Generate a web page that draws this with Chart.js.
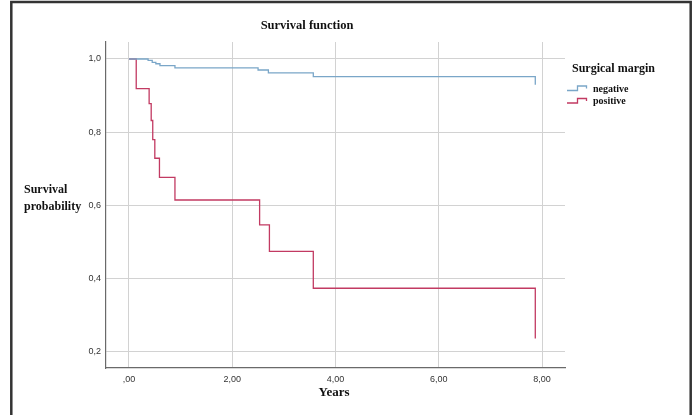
<!DOCTYPE html>
<html>
<head>
<meta charset="utf-8">
<script src="https://cdn.jsdelivr.net/npm/chart.js@4/dist/chart.umd.min.js"></script>
<style>
  html, body { margin: 0; padding: 0; background: #ffffff; }
  #wrap { width: 696px; height: 415px; }
</style>
</head>
<body>
<div id="wrap"><canvas id="c" width="696" height="415"></canvas></div>
<script>
// ---- data ----
const negativeTimes = [0, 0.37, 0.45, 0.52, 0.60, 0.89, 2.50, 2.70, 3.57, 7.87];
const negativeSurvival = [1.0, 0.996, 0.991, 0.987, 0.982, 0.976, 0.970, 0.962, 0.952, 0.930];
const positiveTimes = [0, 0.14, 0.39, 0.43, 0.46, 0.50, 0.59, 0.89, 2.53, 2.72, 3.57, 7.87];
const positiveSurvival = [1.0, 0.919, 0.878, 0.832, 0.780, 0.729, 0.677, 0.615, 0.547, 0.475, 0.374, 0.237];
const seriesNames = ["negative", "positive"];
const xTickValues = [0, 2, 4, 6, 8];
const xTickLabels = [",00", "2,00", "4,00", "6,00", "8,00"];
const yTickValues = [0.2, 0.4, 0.6, 0.8, 1.0];
const yTickLabels = ["0,2", "0,4", "0,6", "0,8", "1,0"];
const chartTitle = "Survival function";
const xTitle = "Years";
const yTitleLines = ["Survival", "probability"];
const legendTitle = "Surgical margin";

const colors = ["#7aa6c8", "#c23a62"];
const serif = "'Liberation Serif', 'Times New Roman', serif";

function pts(ts, vs) { return ts.map((t, i) => ({ x: t, y: vs[i] })); }

const decor = {
  id: 'decor',
  afterDraw(chart) {
    const ctx = chart.ctx;
    ctx.save();
    // outer frame
    ctx.strokeStyle = '#333333';
    ctx.lineWidth = 2.5;
    ctx.beginPath();
    ctx.moveTo(11.3, 415);
    ctx.lineTo(11.3, 2);
    ctx.lineTo(690.7, 2);
    ctx.lineTo(690.7, 415);
    ctx.stroke();

    ctx.fillStyle = '#111111';
    ctx.textBaseline = 'middle';
    // chart title
    ctx.font = 'bold 12.5px ' + serif;
    ctx.textAlign = 'center';
    ctx.fillText(chartTitle, 307, 26);
    // x title
    ctx.font = 'bold 13px ' + serif;
    ctx.fillText(xTitle, 334, 393);
    // y title
    ctx.font = 'bold 12px ' + serif;
    ctx.textAlign = 'left';
    ctx.fillText(yTitleLines[0], 24, 190);
    ctx.fillText(yTitleLines[1], 24, 207);
    // legend
    ctx.font = 'bold 12px ' + serif;
    ctx.fillText(legendTitle, 572, 69);
    ctx.font = 'bold 10px ' + serif;
    const rows = [89, 101.5];
    rows.forEach((y, i) => {
      ctx.strokeStyle = colors[i];
      ctx.lineWidth = 1.3;
      ctx.beginPath();
      ctx.moveTo(567, y + 1.5);
      ctx.lineTo(577.5, y + 1.5);
      ctx.lineTo(577.5, y - 3);
      ctx.lineTo(586.5, y - 3);
      ctx.lineTo(586.5, y - 0.5);
      ctx.stroke();
      ctx.fillStyle = '#111111';
      ctx.fillText(seriesNames[i], 593, y);
    });
    ctx.restore();
  }
};

new Chart(document.getElementById('c'), {
  type: 'line',
  data: {
    datasets: [
      {
        label: seriesNames[0],
        data: pts(negativeTimes, negativeSurvival),
        borderColor: colors[0],
        borderWidth: 1.3,
        stepped: 'before',
        pointRadius: 0,
        fill: false
      },
      {
        label: seriesNames[1],
        data: pts(positiveTimes, positiveSurvival),
        borderColor: colors[1],
        borderWidth: 1.3,
        stepped: 'before',
        pointRadius: 0,
        fill: false
      }
    ]
  },
  options: {
    responsive: false,
    animation: false,
    devicePixelRatio: 1,
    layout: { padding: { top: 42, left: 0, right: 131, bottom: 0 } },
    plugins: {
      legend: { display: false },
      title: { display: false },
      tooltip: { enabled: false }
    },
    scales: {
      x: {
        type: 'linear',
        min: -0.4455,
        max: 8.4455,
        afterFit(s) { s.height = 47; },
        afterBuildTicks(s) { s.ticks = xTickValues.map(v => ({ value: v })); },
        ticks: {
          autoSkip: false,
          maxRotation: 0,
          padding: 6,
          color: '#333333',
          font: { family: "'Liberation Sans', Arial, sans-serif", size: 9 },
          callback(v) { const i = xTickValues.indexOf(v); return i >= 0 ? xTickLabels[i] : ''; }
        },
        grid: { color: '#d2d2d2', lineWidth: 1, drawTicks: false },
        border: { color: '#6a6a6a', width: 1.2 }
      },
      y: {
        type: 'linear',
        min: 0.1563,
        max: 1.0464,
        afterFit(s) { s.width = 106; },
        afterBuildTicks(s) { s.ticks = yTickValues.map(v => ({ value: v })); },
        ticks: {
          autoSkip: false,
          padding: 5,
          color: '#333333',
          font: { family: "'Liberation Sans', Arial, sans-serif", size: 9 },
          callback(v) {
            const i = yTickValues.findIndex(t => Math.abs(t - v) < 1e-6);
            return i >= 0 ? yTickLabels[i] : '';
          }
        },
        grid: { color: '#d2d2d2', lineWidth: 1, drawTicks: false },
        border: { color: '#6a6a6a', width: 1.2 }
      }
    }
  },
  plugins: [decor]
});
</script>
</body>
</html>
